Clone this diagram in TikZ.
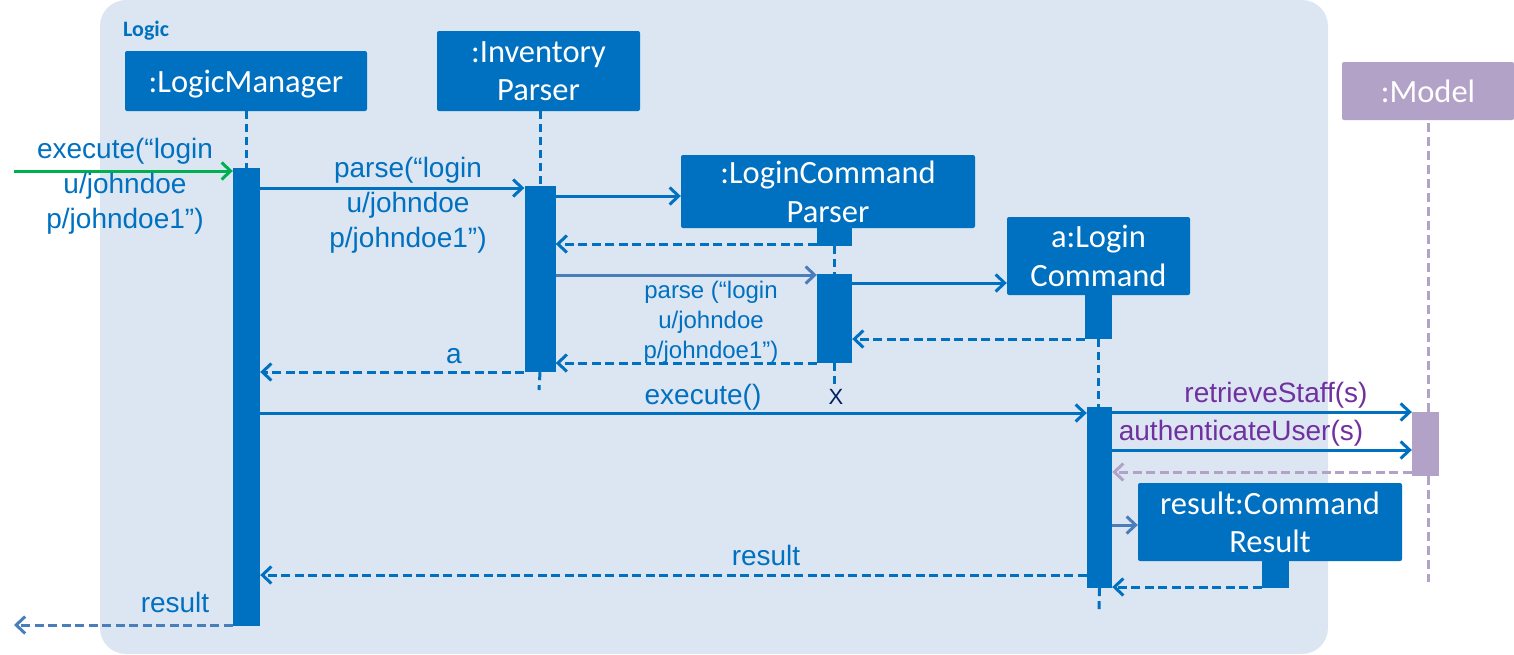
\documentclass[tikz,border=0pt]{standalone}
\usepackage{fontspec}
\setmainfont{Liberation Sans}
\newfontfamily\boxfont{Carlito}
\usetikzlibrary{arrows.meta}
\definecolor{bgblue}{HTML}{DCE6F2}
\definecolor{mainblue}{HTML}{0070C0}
\definecolor{steelblue}{HTML}{4A7EBB}
\definecolor{modelpurple}{HTML}{B3A2C7}
\definecolor{textpurple}{HTML}{7030A0}
\definecolor{greenarrow}{HTML}{00B050}
\definecolor{navyx}{HTML}{002060}
\begin{document}
\begin{tikzpicture}[x=1pt,y=-1pt,
  obj/.style={fill=mainblue, rounded corners=2pt, text=white, font=\boxfont\fontsize{32.5}{38.5}\selectfont, align=center, inner sep=0pt, text depth=0pt},
  actbar/.style={fill=#1, inner sep=0pt},
  actbar/.default=mainblue,
  life/.style={draw=mainblue, line width=3pt, dash pattern=on 8pt off 5pt},
  msg/.style={draw=mainblue, line width=3pt, -{Straight Barb[length=9pt,width=17pt]}},
  ret/.style={msg, dash pattern=on 9pt off 4.5pt},
  lbl/.style={text=mainblue, font=\fontsize{28}{35}\selectfont, inner sep=0pt, align=center},
  slbl/.style={text=mainblue, font=\fontsize{24}{30}\selectfont, inner sep=0pt, align=center},
  plbl/.style={text=textpurple, font=\fontsize{28}{35}\selectfont, inner sep=0pt}
]
\useasboundingbox (0,0) rectangle (1514,654);
\fill[bgblue, rounded corners=26pt] (100,0) rectangle (1328,654);
\node[text=mainblue, font=\boxfont\bfseries\fontsize{22}{26}\selectfont, anchor=base west, inner sep=0pt] (logic) at (123,36) {Logic};

% objects
\node[obj, minimum width=242, minimum height=60] (lm) at (246,81) {:LogicManager};
\node[obj, minimum width=203, minimum height=80] (ip) at (538.5,71) {:Inventory\\Parser};
\node[obj, minimum width=294, minimum height=73] (lcp) at (828,191.5) {:LoginCommand\\Parser};
\node[obj, minimum width=183, minimum height=78] (lc) at (1098.5,256) {a:Login\\Command};
\node[obj, fill=modelpurple, minimum width=172, minimum height=58] (model) at (1428,91) {:Model};
\node[obj, minimum width=264, minimum height=78] (cr) at (1270,522) {result:Command\\Result};

% activation bars
\node[actbar, minimum width=27, minimum height=458] (lmbar) at (246.5,397) {};
\node[actbar, minimum width=31, minimum height=186] (ipbar) at (540,279) {};
\node[actbar, minimum width=35, minimum height=18] (lcpsmall) at (834.5,237) {};
\node[actbar, minimum width=35, minimum height=89] (lcpbar) at (834.5,318.5) {};
\node[actbar, minimum width=27, minimum height=44] (lcsmall) at (1098.5,317) {};
\node[actbar, minimum width=25, minimum height=181] (lcbar) at (1099.5,497.5) {};
\node[actbar=modelpurple, minimum width=27, minimum height=64] (mbar) at (1425.5,444) {};
\node[actbar, minimum width=27, minimum height=28] (crsmall) at (1275.5,574) {};

% lifelines
\draw[life] (lmbar.north |- lm.south) -- (lmbar.north);
\draw[life] (ipbar.north |- ip.south) -- (ipbar.north);
\coordinate (ipend) at (539,390);
\draw[life] (ipbar.south) -- (ipend);
\draw[life] (lcpsmall.south) -- (lcpbar.north);
\node[text=navyx, font=\fontsize{22}{26}\selectfont, inner sep=0pt, anchor=base] (destroy) at (836,404) {X};
\draw[life] (lcpbar.south) -- (lcpbar.south |- destroy.north);
\draw[life] (lcsmall.south) -- (lcsmall.south |- lcbar.north);
\coordinate (lcend) at (1099,612);
\draw[life] (lcbar.south) -- (lcend);
\draw[life, draw=modelpurple, dash pattern=on 9pt off 5pt] (mbar.north -| model.south) -- (model.south);
\coordinate (mend) at (1428,582);
\draw[life, draw=modelpurple, dash pattern=on 9pt off 5pt] (mbar.south -| mend) -- (mend);

% messages
\coordinate (start) at (14,171);
\coordinate (finish) at (14,625);
\draw[msg, draw=greenarrow] (start) -- (lmbar.west |- start);
\node[lbl] (l1) at (125,186) {execute(“login\\u/johndoe\\p/johndoe1”)};

\draw[msg] (lmbar.east |- 0,188) -- (ipbar.west |- 0,188);
\node[lbl] (l2) at (408,205) {parse(“login\\u/johndoe\\p/johndoe1”)};

\draw[msg] (ipbar.east |- 0,196) -- (lcp.west |- 0,196);
\draw[ret] (lcpsmall.west |- 0,244) -- (ipbar.east |- 0,244);

\draw[msg, draw=steelblue] (ipbar.east |- 0,275) -- (lcpbar.west |- 0,275);
\node[slbl] (l3) at (711,322) {parse (“login\\u/johndoe\\p/johndoe1”)};

\draw[msg] (lcpbar.east |- 0,283) -- (lc.west |- 0,283);
\draw[ret] (lcsmall.west |- 0,339) -- (lcpbar.east |- 0,339);
\draw[ret] (lcpbar.west |- 0,363) -- (ipbar.east |- 0,363);

\draw[ret] (ipbar.west |- 0,372) -- (lmbar.east |- 0,372);
\node[lbl, anchor=base] (l4) at (454,363) {a};

\draw[msg] (lmbar.east |- 0,413) -- (lcbar.west |- 0,413);
\node[lbl, anchor=base] (l5) at (703,404) {execute()};

\draw[msg] (lcbar.east |- 0,412) -- (mbar.west |- 0,412);
\node[plbl, anchor=base] (l6) at (1276,402) {retrieveStaff(s)};
\draw[msg] (lcbar.east |- 0,450) -- (mbar.west |- 0,450);
\node[plbl, anchor=base] (l7) at (1241,440) {authenticateUser(s)};
\draw[ret, draw=modelpurple] (mbar.west |- 0,472) -- (lcbar.east |- 0,472);

\draw[msg, draw=steelblue] (lcbar.east |- 0,525) -- (cr.west |- 0,525);
\draw[ret] (crsmall.west |- 0,587) -- (lcbar.east |- 0,587);

\draw[ret] (lcbar.west |- 0,575) -- (lmbar.east |- 0,575);
\node[lbl, anchor=base] (l8) at (766,565) {result};

\draw[ret, draw=steelblue] (lmbar.west |- finish) -- (finish);
\node[lbl, anchor=base] (l9) at (175,612) {result};
\end{tikzpicture}
\end{document}
